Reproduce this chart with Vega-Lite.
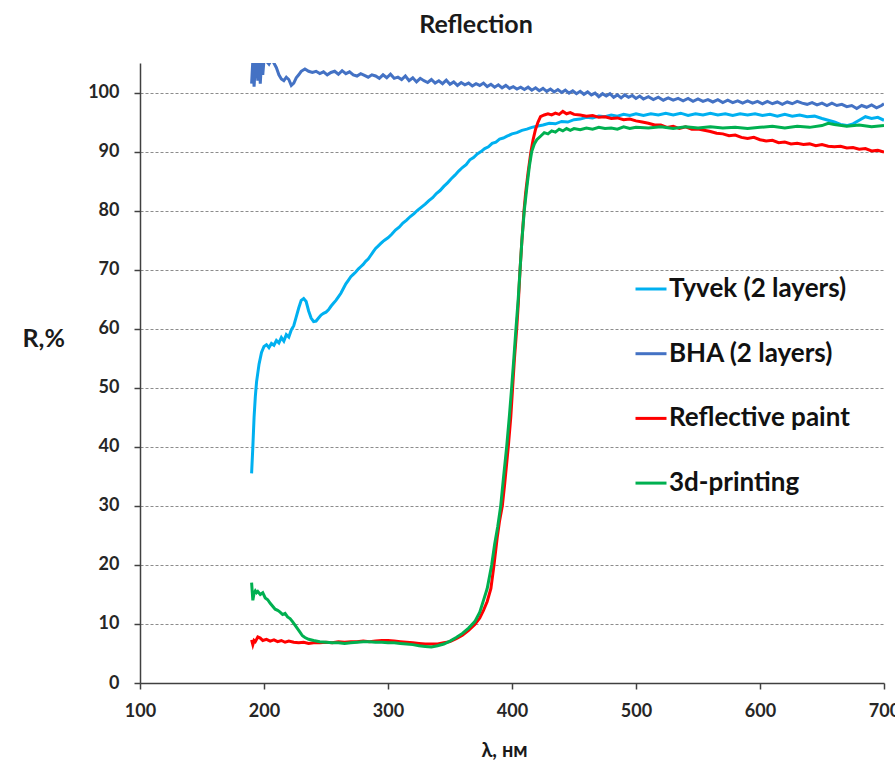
{
  "$schema": "https://vega.github.io/schema/vega-lite/v6.json",
  "autosize": "none",
  "width": 744,
  "height": 620,
  "padding": {"left": 140, "top": 63, "right": 11, "bottom": 79},
  "background": "white",
  "title": {"text": "Reflection", "font": "Lato", "fontSize": 25, "fontWeight": "bold", "color": "#1a1a1a", "anchor": "middle", "frame": "group", "dx": -36, "offset": 5, "baseline": "alphabetic"},
  "datasets": {
    "tyvek": [
      {"x":190,"y":35.5},{"x":191,"y":40},{"x":192,"y":45},{"x":193,"y":48.5},{"x":194,"y":51},{"x":196,"y":54},{"x":198,"y":56},{"x":200,"y":57},{"x":202,"y":57.3},{"x":204,"y":56.8},{"x":206,"y":57.5},{"x":208,"y":57.2},{"x":210,"y":58.0},{"x":212,"y":57.6},{"x":214,"y":58.5},{"x":216,"y":57.9},{"x":218,"y":59.0},{"x":220,"y":58.6},{"x":222,"y":59.8},{"x":224,"y":60.5},{"x":226,"y":62.0},{"x":228,"y":63.5},{"x":230,"y":64.8},{"x":232,"y":65.1},{"x":234,"y":64.6},{"x":236,"y":63.0},{"x":238,"y":61.8},{"x":240,"y":61.2},{"x":242,"y":61.3},{"x":244,"y":61.8},{"x":246,"y":62.3},{"x":248,"y":62.6},{"x":250,"y":62.8},{"x":252,"y":63.2},{"x":254,"y":63.8},{"x":256,"y":64.3},{"x":258,"y":64.8},{"x":260,"y":65.4},{"x":262,"y":66.0},{"x":264,"y":66.8},{"x":266,"y":67.6},{"x":268,"y":68.2},{"x":270,"y":68.8},{"x":272,"y":69.2},{"x":274,"y":69.6},{"x":276,"y":70.1},{"x":278,"y":70.5},{"x":280,"y":70.9},{"x":282,"y":71.4},{"x":284,"y":71.8},{"x":286,"y":72.4},{"x":288,"y":73.0},{"x":290,"y":73.6},{"x":292,"y":74.0},{"x":294,"y":74.4},{"x":296,"y":74.8},{"x":298,"y":75.1},{"x":300,"y":75.4},{"x":303,"y":76.0},{"x":306,"y":76.7},{"x":309,"y":77.2},{"x":312,"y":77.9},{"x":315,"y":78.4},{"x":318,"y":79.0},{"x":321,"y":79.5},{"x":324,"y":80.1},{"x":327,"y":80.6},{"x":330,"y":81.1},{"x":333,"y":81.7},{"x":336,"y":82.2},{"x":339,"y":82.9},{"x":342,"y":83.4},{"x":345,"y":84.1},{"x":348,"y":84.7},{"x":351,"y":85.4},{"x":354,"y":86.0},{"x":357,"y":86.7},{"x":360,"y":87.3},{"x":363,"y":87.8},{"x":366,"y":88.6},{"x":369,"y":89.0},{"x":372,"y":89.6},{"x":375,"y":90.0},{"x":378,"y":90.5},{"x":381,"y":90.8},{"x":384,"y":91.4},{"x":387,"y":91.6},{"x":390,"y":92.1},{"x":393,"y":92.3},{"x":396,"y":92.6},{"x":400,"y":93.0},{"x":404,"y":93.2},{"x":408,"y":93.6},{"x":412,"y":93.8},{"x":416,"y":94.1},{"x":420,"y":94.3},{"x":425,"y":94.5},{"x":430,"y":94.8},{"x":435,"y":94.7},{"x":440,"y":95.1},{"x":445,"y":95.0},{"x":450,"y":95.4},{"x":455,"y":95.5},{"x":460,"y":95.8},{"x":465,"y":95.7},{"x":470,"y":96.0},{"x":475,"y":95.9},{"x":480,"y":96.2},{"x":485,"y":96.0},{"x":490,"y":96.3},{"x":495,"y":96.1},{"x":500,"y":96.4},{"x":506,"y":96.1},{"x":512,"y":96.4},{"x":518,"y":96.2},{"x":524,"y":96.5},{"x":530,"y":96.2},{"x":536,"y":96.5},{"x":542,"y":96.1},{"x":548,"y":96.4},{"x":554,"y":96.2},{"x":560,"y":96.5},{"x":566,"y":96.2},{"x":572,"y":96.4},{"x":578,"y":96.1},{"x":584,"y":96.4},{"x":590,"y":96.2},{"x":596,"y":96.4},{"x":602,"y":96.1},{"x":608,"y":96.3},{"x":614,"y":96.0},{"x":620,"y":96.3},{"x":626,"y":96.0},{"x":632,"y":96.2},{"x":638,"y":95.9},{"x":644,"y":96.0},{"x":650,"y":95.6},{"x":655,"y":95.3},{"x":660,"y":95.0},{"x":665,"y":94.6},{"x":670,"y":94.4},{"x":675,"y":94.7},{"x":680,"y":95.3},{"x":685,"y":95.9},{"x":690,"y":95.6},{"x":695,"y":95.8},{"x":700,"y":95.3}
    ],
    "bha": [
      {"x":190,"y":101.5},{"x":191,"y":105.5},{"x":192,"y":101.0},{"x":193,"y":104.5},{"x":194,"y":105.8},{"x":195,"y":102.0},{"x":196,"y":105.5},{"x":197,"y":101.5},{"x":198,"y":105.2},{"x":199,"y":103.0},{"x":200,"y":105.5},{"x":202,"y":105.3},{"x":204,"y":104.8},{"x":206,"y":105.6},{"x":208,"y":105.0},{"x":210,"y":104.2},{"x":212,"y":103.0},{"x":214,"y":102.3},{"x":216,"y":102.0},{"x":218,"y":102.6},{"x":220,"y":102.2},{"x":222,"y":101.2},{"x":224,"y":101.6},{"x":226,"y":102.5},{"x":228,"y":103.0},{"x":230,"y":103.6},{"x":233,"y":104.0},{"x":236,"y":103.6},{"x":239,"y":103.4},{"x":242,"y":103.6},{"x":245,"y":103.2},{"x":248,"y":103.5},{"x":251,"y":103.0},{"x":254,"y":103.4},{"x":257,"y":103.6},{"x":260,"y":103.1},{"x":263,"y":103.7},{"x":266,"y":103.2},{"x":269,"y":103.5},{"x":272,"y":103.0},{"x":275,"y":102.8},{"x":278,"y":103.2},{"x":281,"y":102.9},{"x":284,"y":102.6},{"x":287,"y":103.0},{"x":290,"y":102.8},{"x":293,"y":102.4},{"x":296,"y":103.0},{"x":299,"y":102.5},{"x":302,"y":103.1},{"x":305,"y":102.4},{"x":308,"y":102.6},{"x":311,"y":102.2},{"x":314,"y":102.8},{"x":317,"y":102.0},{"x":320,"y":102.5},{"x":323,"y":101.8},{"x":326,"y":102.4},{"x":329,"y":102.0},{"x":332,"y":101.7},{"x":335,"y":102.2},{"x":338,"y":101.6},{"x":341,"y":102.0},{"x":344,"y":101.5},{"x":347,"y":102.1},{"x":350,"y":101.4},{"x":353,"y":101.8},{"x":356,"y":101.2},{"x":359,"y":101.7},{"x":362,"y":101.3},{"x":365,"y":101.6},{"x":368,"y":101.1},{"x":371,"y":101.5},{"x":374,"y":101.2},{"x":377,"y":101.6},{"x":380,"y":101.0},{"x":383,"y":101.4},{"x":386,"y":100.9},{"x":389,"y":101.3},{"x":392,"y":100.8},{"x":395,"y":101.2},{"x":398,"y":100.7},{"x":401,"y":101.0},{"x":404,"y":100.6},{"x":407,"y":100.9},{"x":410,"y":100.5},{"x":413,"y":100.9},{"x":416,"y":100.4},{"x":419,"y":100.8},{"x":422,"y":100.3},{"x":425,"y":100.7},{"x":428,"y":100.2},{"x":431,"y":100.6},{"x":434,"y":100.1},{"x":437,"y":100.5},{"x":440,"y":100.0},{"x":443,"y":100.4},{"x":446,"y":99.9},{"x":449,"y":100.3},{"x":452,"y":99.8},{"x":455,"y":100.2},{"x":458,"y":99.7},{"x":461,"y":100.1},{"x":464,"y":99.6},{"x":467,"y":99.9},{"x":470,"y":99.3},{"x":473,"y":99.8},{"x":476,"y":99.4},{"x":479,"y":99.8},{"x":482,"y":99.2},{"x":485,"y":99.6},{"x":488,"y":99.1},{"x":491,"y":99.6},{"x":494,"y":99.2},{"x":497,"y":99.5},{"x":500,"y":99.0},{"x":503,"y":99.4},{"x":506,"y":98.9},{"x":510,"y":99.3},{"x":514,"y":98.8},{"x":518,"y":99.2},{"x":522,"y":98.7},{"x":526,"y":99.1},{"x":530,"y":98.7},{"x":534,"y":99.0},{"x":538,"y":98.6},{"x":542,"y":99.0},{"x":546,"y":98.5},{"x":550,"y":98.9},{"x":554,"y":98.5},{"x":558,"y":98.8},{"x":562,"y":98.4},{"x":566,"y":98.8},{"x":570,"y":98.3},{"x":574,"y":98.7},{"x":578,"y":98.3},{"x":582,"y":98.6},{"x":586,"y":98.2},{"x":590,"y":98.6},{"x":594,"y":98.2},{"x":598,"y":98.5},{"x":602,"y":98.1},{"x":606,"y":98.5},{"x":610,"y":98.1},{"x":614,"y":98.4},{"x":618,"y":98.0},{"x":622,"y":98.4},{"x":626,"y":98.1},{"x":630,"y":98.5},{"x":634,"y":98.2},{"x":638,"y":98.0},{"x":642,"y":98.3},{"x":646,"y":97.9},{"x":650,"y":98.2},{"x":654,"y":97.8},{"x":658,"y":98.2},{"x":662,"y":97.8},{"x":666,"y":98.0},{"x":670,"y":97.6},{"x":674,"y":97.8},{"x":678,"y":97.3},{"x":682,"y":97.8},{"x":686,"y":97.5},{"x":690,"y":97.9},{"x":694,"y":97.4},{"x":698,"y":97.8},{"x":700,"y":98.1}
    ],
    "paint": [
      {"x":190,"y":7.3},{"x":191,"y":6.5},{"x":192,"y":7.2},{"x":193,"y":7.0},{"x":195,"y":7.8},{"x":197,"y":7.6},{"x":199,"y":7.2},{"x":202,"y":7.4},{"x":205,"y":7.1},{"x":208,"y":7.3},{"x":211,"y":7.0},{"x":214,"y":7.2},{"x":217,"y":6.9},{"x":220,"y":7.1},{"x":224,"y":6.9},{"x":228,"y":6.8},{"x":232,"y":6.9},{"x":236,"y":6.7},{"x":240,"y":6.8},{"x":245,"y":6.8},{"x":250,"y":6.9},{"x":255,"y":6.8},{"x":260,"y":7.0},{"x":265,"y":6.9},{"x":270,"y":7.0},{"x":275,"y":7.0},{"x":280,"y":7.1},{"x":285,"y":7.0},{"x":290,"y":7.1},{"x":295,"y":7.2},{"x":300,"y":7.2},{"x":305,"y":7.1},{"x":310,"y":7.0},{"x":315,"y":6.9},{"x":320,"y":6.8},{"x":325,"y":6.7},{"x":330,"y":6.6},{"x":335,"y":6.6},{"x":340,"y":6.6},{"x":345,"y":6.8},{"x":350,"y":7.0},{"x":355,"y":7.5},{"x":360,"y":8.1},{"x":365,"y":8.9},{"x":370,"y":9.9},{"x":374,"y":11.0},{"x":377,"y":12.3},{"x":380,"y":13.8},{"x":383,"y":16.0},{"x":385.5,"y":20},{"x":388,"y":24.5},{"x":390,"y":27.5},{"x":392.2,"y":30},{"x":394,"y":33.5},{"x":397,"y":40},{"x":399,"y":45},{"x":400.5,"y":50},{"x":402,"y":55},{"x":403.8,"y":60},{"x":405,"y":64},{"x":406.5,"y":70},{"x":408,"y":75},{"x":409.7,"y":80},{"x":411,"y":83},{"x":413,"y":86.5},{"x":415.3,"y":90},{"x":417,"y":92},{"x":419,"y":93.8},{"x":421,"y":95},{"x":423,"y":95.9},{"x":426,"y":96.2},{"x":429,"y":96.4},{"x":432,"y":96.2},{"x":435,"y":96.5},{"x":438,"y":96.3},{"x":441,"y":96.8},{"x":444,"y":96.4},{"x":447,"y":96.6},{"x":450,"y":96.3},{"x":455,"y":96.2},{"x":460,"y":96.0},{"x":465,"y":96.1},{"x":470,"y":95.8},{"x":475,"y":95.9},{"x":480,"y":95.6},{"x":485,"y":95.7},{"x":490,"y":95.4},{"x":495,"y":95.5},{"x":500,"y":95.2},{"x":505,"y":95.0},{"x":510,"y":94.8},{"x":515,"y":94.5},{"x":520,"y":94.5},{"x":525,"y":94.1},{"x":530,"y":94.3},{"x":535,"y":93.9},{"x":540,"y":94.2},{"x":545,"y":93.8},{"x":550,"y":93.8},{"x":555,"y":93.6},{"x":560,"y":93.4},{"x":565,"y":93.1},{"x":570,"y":93.0},{"x":575,"y":92.7},{"x":580,"y":92.8},{"x":585,"y":92.4},{"x":590,"y":92.2},{"x":595,"y":92.4},{"x":600,"y":92.0},{"x":605,"y":91.8},{"x":610,"y":91.9},{"x":615,"y":91.5},{"x":620,"y":91.6},{"x":625,"y":91.3},{"x":630,"y":91.4},{"x":635,"y":91.2},{"x":640,"y":91.3},{"x":645,"y":91.0},{"x":650,"y":91.2},{"x":655,"y":90.9},{"x":660,"y":90.8},{"x":665,"y":90.9},{"x":670,"y":90.6},{"x":675,"y":90.7},{"x":680,"y":90.4},{"x":685,"y":90.5},{"x":690,"y":90.1},{"x":695,"y":90.2},{"x":700,"y":89.9}
    ],
    "print3d": [
      {"x":190,"y":17.0},{"x":190.5,"y":15.5},{"x":191,"y":14.0},{"x":192,"y":15.2},{"x":193,"y":15.6},{"x":194,"y":15.3},{"x":195,"y":15.5},{"x":197,"y":15.0},{"x":199,"y":15.3},{"x":201,"y":14.4},{"x":203,"y":14.1},{"x":205,"y":13.5},{"x":207,"y":13.0},{"x":209,"y":12.5},{"x":211,"y":12.3},{"x":213,"y":12.0},{"x":215,"y":11.6},{"x":217,"y":11.8},{"x":219,"y":11.2},{"x":221,"y":10.9},{"x":223,"y":10.4},{"x":225,"y":9.8},{"x":227,"y":9.2},{"x":229,"y":8.6},{"x":231,"y":8.0},{"x":233,"y":7.7},{"x":236,"y":7.4},{"x":240,"y":7.2},{"x":245,"y":7.0},{"x":250,"y":6.9},{"x":255,"y":6.8},{"x":260,"y":6.8},{"x":265,"y":6.7},{"x":270,"y":6.8},{"x":275,"y":6.9},{"x":280,"y":7.0},{"x":285,"y":7.0},{"x":290,"y":6.9},{"x":295,"y":6.9},{"x":300,"y":6.8},{"x":305,"y":6.8},{"x":310,"y":6.7},{"x":315,"y":6.6},{"x":320,"y":6.5},{"x":325,"y":6.3},{"x":330,"y":6.2},{"x":335,"y":6.1},{"x":340,"y":6.3},{"x":345,"y":6.6},{"x":350,"y":7.1},{"x":355,"y":7.7},{"x":360,"y":8.4},{"x":365,"y":9.3},{"x":370,"y":10.4},{"x":374,"y":12.0},{"x":377,"y":14.0},{"x":380,"y":16.0},{"x":383.6,"y":20},{"x":386,"y":23.5},{"x":388.5,"y":26.5},{"x":390.9,"y":30},{"x":393,"y":34.5},{"x":395.7,"y":40},{"x":398,"y":45.5},{"x":399.7,"y":50},{"x":401.5,"y":55},{"x":403.2,"y":60},{"x":405,"y":65},{"x":406.5,"y":70},{"x":408,"y":75},{"x":409.9,"y":80},{"x":412,"y":84},{"x":414,"y":87.5},{"x":415.9,"y":90},{"x":418,"y":91.3},{"x":420,"y":92.0},{"x":423,"y":92.6},{"x":426,"y":93.2},{"x":429,"y":93.0},{"x":432,"y":93.5},{"x":435,"y":93.3},{"x":438,"y":93.8},{"x":441,"y":93.5},{"x":444,"y":93.9},{"x":447,"y":93.6},{"x":450,"y":93.9},{"x":455,"y":93.7},{"x":460,"y":94.0},{"x":465,"y":93.8},{"x":470,"y":94.1},{"x":475,"y":93.9},{"x":480,"y":94.0},{"x":485,"y":93.8},{"x":490,"y":94.2},{"x":495,"y":93.9},{"x":500,"y":94.1},{"x":510,"y":94.0},{"x":520,"y":94.2},{"x":530,"y":93.9},{"x":540,"y":94.2},{"x":550,"y":94.0},{"x":560,"y":94.2},{"x":570,"y":94.0},{"x":580,"y":94.1},{"x":590,"y":93.9},{"x":600,"y":94.1},{"x":610,"y":94.3},{"x":620,"y":94.0},{"x":630,"y":94.3},{"x":640,"y":94.1},{"x":650,"y":94.4},{"x":655,"y":94.8},{"x":660,"y":94.6},{"x":670,"y":94.3},{"x":680,"y":94.5},{"x":690,"y":94.2},{"x":700,"y":94.4}
    ]
  },
  "layer": [
    {"data": {"name": "tyvek"}, "transform": [{"calculate": "'Tyvek (2 layers)'", "as": "series"}], "mark": {"type": "line", "clip": true, "strokeWidth": 3}, "encoding": {"x": {"field": "x", "type": "quantitative"}, "y": {"field": "y", "type": "quantitative"}, "color": {"field": "series", "type": "nominal"}}},
    {"data": {"name": "bha"}, "transform": [{"calculate": "'BHA (2 layers)'", "as": "series"}], "mark": {"type": "line", "clip": true, "strokeWidth": 3}, "encoding": {"x": {"field": "x", "type": "quantitative"}, "y": {"field": "y", "type": "quantitative"}, "color": {"field": "series", "type": "nominal"}}},
    {"data": {"name": "paint"}, "transform": [{"calculate": "'Reflective paint'", "as": "series"}], "mark": {"type": "line", "clip": true, "strokeWidth": 3}, "encoding": {"x": {"field": "x", "type": "quantitative"}, "y": {"field": "y", "type": "quantitative"}, "color": {"field": "series", "type": "nominal"}}},
    {"data": {"name": "print3d"}, "transform": [{"calculate": "'3d-printing'", "as": "series"}], "mark": {"type": "line", "clip": true, "strokeWidth": 3}, "encoding": {"x": {"field": "x", "type": "quantitative"}, "y": {"field": "y", "type": "quantitative"}, "color": {"field": "series", "type": "nominal"}}}
  ],
  "resolve": {"scale": {"color": "shared"}},
  "encoding": {
    "x": {"field": "x", "type": "quantitative", "scale": {"domain": [100, 700], "nice": false, "zero": false},
      "axis": {"title": "λ, нм", "values": [100,200,300,400,500,600,700], "grid": false, "labelFlush": false, "domainColor": "#404040", "domainWidth": 1.5, "tickColor": "#404040", "tickWidth": 1.5, "tickSize": 6, "labelFont": "Lato", "labelFontWeight": "bold", "labelFontSize": 18, "labelColor": "#262626", "labelPadding": 13, "titleFont": "Lato", "titleFontSize": 20, "titleFontWeight": "bold", "titleColor": "#1a1a1a", "titleX": 364, "titleY": 73, "titleBaseline": "alphabetic", "titleAlign": "center"}},
    "y": {"field": "y", "type": "quantitative", "scale": {"domain": [0, 105], "nice": false},
      "axis": {"title": "R,%", "values": [0,10,20,30,40,50,60,70,80,90,100], "grid": true, "gridDash": [3, 2], "gridColor": "#8c8c8c", "gridWidth": 1, "domainColor": "#404040", "domainWidth": 1.5, "tickColor": "#404040", "tickWidth": 1.5, "tickSize": 6, "labelFont": "Lato", "labelFontWeight": "bold", "labelFontSize": 18, "labelColor": "#262626", "labelPadding": 15, "titleFont": "Lato", "titleFontSize": 25, "titleFontWeight": "bold", "titleColor": "#1a1a1a", "titleAngle": 0, "titleX": -118, "titleY": 283, "titleAlign": "left", "titleBaseline": "alphabetic"}},
    "color": {"field": "series", "type": "nominal",
      "scale": {"domain": ["Tyvek (2 layers)", "BHA (2 layers)", "Reflective paint", "3d-printing"], "range": ["#00B0F0", "#4472C4", "#FF0000", "#00B050"]},
      "legend": {"orient": "none", "legendX": 494, "legendY": 209, "title": null, "symbolType": "stroke", "symbolSize": 961, "symbolStrokeWidth": 3, "labelFont": "Lato", "labelFontSize": 26, "labelFontWeight": "bold", "labelColor": "#111111", "labelOffset": 1, "rowPadding": 34.7, "padding": 0, "labelLimit": 400}}
  },
  "config": {"view": {"stroke": null}, "font": "Lato"}
}
